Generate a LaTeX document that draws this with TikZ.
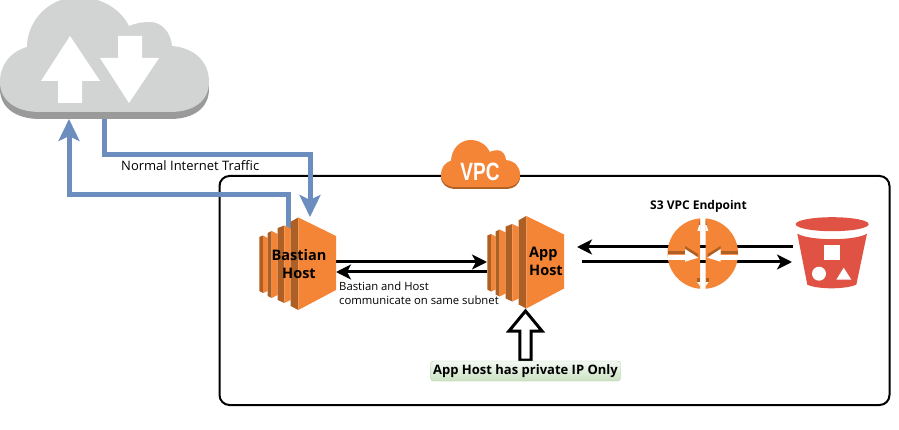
\documentclass[tikz,border=0pt]{standalone}
\usepackage{fontspec}
\setmainfont{Open Sans}
\newfontfamily\vpcfont{Liberation Sans}
\usetikzlibrary{arrows.meta}
\definecolor{awsorange}{HTML}{F58536}
\definecolor{awsdark}{HTML}{AD5F24}
\definecolor{cloudgray}{HTML}{D2D3D3}
\definecolor{cloudshade}{HTML}{9A9A9A}
\definecolor{flowblue}{HTML}{6C8EBF}
\definecolor{bucketred}{HTML}{E05243}
\definecolor{notetop}{HTML}{F4F9F2}
\definecolor{notebottom}{HTML}{CBE2C3}
\definecolor{noteedge}{HTML}{B4CFA8}
\newcommand{\cloudshape}{(0,82) .. controls (0,65) and (10,52) .. (27,47)
 .. controls (27,20) and (50,-3) .. (78,-3)
 .. controls (100,-3) and (120,8) .. (129,26)
 .. controls (136,23) and (143,22) .. (150,22)
 .. controls (162,22) and (171,33) .. (172,46)
 .. controls (195,48) and (209,62) .. (209,82)
 .. controls (209,100) and (195,112) .. (170,112)
 -- (40,112) .. controls (15,112) and (0,100) .. (0,82) -- cycle}
\tikzset{
 slot/.style={inner sep=0pt,outer sep=0pt,minimum width=#1},
 blueflow/.style={draw=flowblue,line width=5pt,-{Stealth[length=22pt,width=21pt,inset=5pt]}},
 blackflow/.style={draw=black,line width=3pt,-{Stealth[length=15pt,width=15pt,inset=4pt]}},
 caption/.style={inner sep=0pt,font=\fontsize{13}{14}\selectfont,text=black},
 hostlabel/.style={inner sep=0pt,font=\fontsize{14.5}{18}\selectfont\bfseries,text=black,align=center},
 ectwo/.pic={
  \fill[awsdark] (259.3,237)--(263,235.5)--(263,293)--(259.3,291)--cycle;
  \fill[awsorange] (263,235.5)--(267.7,238)--(267.7,291)--(263,293)--cycle;
  \fill[awsdark] (267.7,233)--(271.7,231)--(271.7,298)--(267.7,296)--cycle;
  \fill[awsorange] (271.7,231)--(277.7,234)--(277.7,295)--(271.7,298)--cycle;
  \fill[awsdark] (277.7,228)--(284.3,225.5)--(284.3,303)--(277.7,300)--cycle;
  \fill[awsorange] (284.3,225.5)--(290.7,228.5)--(290.7,300)--(284.3,303)--cycle;
  \fill[awsdark] (290.7,221.7)--(298.3,217.5)--(298.3,310)--(290.7,306)--cycle;
  \fill[awsorange] (298.3,217.5)--(336,236)--(336,290)--(298.3,310)--cycle;
 }
}
\begin{document}
\begin{tikzpicture}[x=1pt,y=-1pt]
\useasboundingbox (0,0) rectangle (899,430);
\fill[white] (0,0) rectangle (899,430);
% layout slots
\node[slot=209pt,minimum height=119pt] (cloud) at (104.5,59.5) {};
\node[slot=77pt,minimum height=93pt] (bastian) at (297.5,263.5) {};
\node[slot=77pt,minimum height=92pt] (app) at (525.5,262) {};
\node[slot=71pt,minimum height=69pt] (endpoint) at (702.8,253.6) {};
\node[slot=73pt,minimum height=71pt] (s3) at (832.5,252.5) {};
\coordinate (outbend) at (200,155);
\coordinate (inbend) at (150,195);
% VPC frame
\draw[line width=2pt,rounded corners=10pt] (219.5,176) rectangle (889.5,405);
\node[caption,anchor=west,font=\fontsize{13}{14}\selectfont] (trafficlabel) at (121,166) {Normal Internet Traffic};
% Internet cloud
\fill[cloudshade] [yshift=-7pt] \cloudshape;
\fill[cloudgray] \cloudshape;
\fill[white] (70,36)--(100,81)--(82,81)--(82,103)--(58,103)--(58,81)--(41,81)--cycle;
\fill[white] (118,36)--(142,36)--(142,58)--(159,58)--(129,103)--(100,58)--(118,58)--cycle;
% blue flows
\draw[blueflow] (cloud.south) |- (outbend) -| ([xshift=12.5pt]bastian.north);
\draw[blueflow] ([xshift=-9.5pt,yshift=-12pt]bastian.north) |- (inbend) -| ([xshift=-35.5pt]cloud.south);
% VPC cloud
\begin{scope}[shift={(441,141.2)},xscale=0.378,yscale=0.41]
 \fill[awsdark] [yshift=-4.5pt] \cloudshape;
 \fill[awsorange] \cloudshape;
\end{scope}
\node[inner sep=0pt,text=white,xscale=0.76,font=\fontsize{25}{25}\selectfont\vpcfont\bfseries] (vpclabel) at (480,172) {VPC};
% black flows
\draw[blackflow] ([yshift=1.5pt]bastian.east) -- ([yshift=0pt]app.west);
\draw[blackflow] ([yshift=-10pt]app.west) -- ([yshift=-8.5pt]bastian.east);
\draw[blackflow] ([xshift=-3pt,yshift=5.5pt]s3.west) -- ([xshift=13pt,yshift=15pt]app.east);
\draw[blackflow] ([xshift=18pt]app.east) -- ([xshift=-4pt,yshift=-9.5pt]s3.west);
% hosts
\pic at (0,0) {ectwo};
\pic at (228,-1.5) {ectwo};
\node[hostlabel] (bastianlabel) at (299,264) {Bastian\\Host};
\node[hostlabel,align=left,anchor=west] (applabel) at (529,261) {App\\Host};
\node[caption,anchor=north west,align=left,font=\fontsize{11.3}{14}\selectfont] (subnetlabel) at (339,282) {Bastian and Host\\communicate on same subnet};
% endpoint
\begin{scope}
 \clip (660,210) rectangle (700,295);
 \fill[awsorange] (702.8,253.6) circle (35.3);
\end{scope}
\begin{scope}
 \clip (705.7,210) rectangle (745,295);
 \fill[awsorange] (702.8,253.6) circle (35.3);
\end{scope}
\fill[awsdark] (667.7,250.7) rectangle (685,254.3);
\fill[awsdark] (685,246)--(698,254)--(698,257)--(685,249)--cycle;
\fill[white] (667.7,255)--(685,255)--(685,249)--(698.3,257.7)--(685,261.7)--(685,260)--(667.7,260)--cycle;
\fill[awsdark] (737.9,250.7) rectangle (720.6,254.3);
\fill[awsdark] (720.6,246)--(707.6,254)--(707.6,257)--(720.6,249)--cycle;
\fill[white] (737.9,255)--(720.6,255)--(720.6,249)--(707.3,257.7)--(720.6,261.7)--(720.6,260)--(737.9,260)--cycle;
\fill[white] (700.2,222)--(697.3,231)--(700.2,231)--cycle;
\fill[white] (705.5,222)--(708.4,231)--(705.5,231)--cycle;
\fill[awsdark] (700,219.5)--(698.8,225)--(700,225)--cycle;
\fill[awsdark] (705.7,219.5)--(706.9,225)--(705.7,225)--cycle;
\fill[awsdark] (696.7,278) rectangle (700,282);
\fill[awsdark] (705.7,278) rectangle (709,282);
\fill[white] (700,282)--(697,282)--(700,286)--cycle;
\fill[white] (705.7,282)--(708.6,282)--(705.7,286)--cycle;
\node[caption,font=\fontsize{12}{14}\selectfont\bfseries] (endpointlabel) at (698.5,206) {S3 VPC Endpoint};
% bucket
\fill[bucketred] (832.2,224.2) ellipse (36.5 and 7);
\fill[bucketred] (797.3,233.7) .. controls (810,241) and (855,241) .. (867,233.7)
 -- (856.3,284.7) .. controls (845,289.5) and (818,289.5) .. (807.3,284.7) -- cycle;
\fill[white] (824,245.3) rectangle (839.7,260.3);
\fill[white] (819,273.7) circle (7);
\fill[white] (843.7,267.7)--(851.3,279.7)--(836.3,279.7)--cycle;
% private IP note
\draw[black,line width=3pt,fill=white,miter limit=10] (525.5,311)--(542,331)--(531.2,331)--(531.2,360)--(519.8,360)--(519.8,331)--(509,331)--cycle;
\node[inner sep=0pt,outer sep=0pt,minimum width=190pt,minimum height=20pt,rounded corners=3pt,draw=noteedge,top color=notetop,bottom color=notebottom,font=\fontsize{13}{14}\selectfont\bfseries] (note) at (525.5,371) {App Host has private IP Only};
\end{tikzpicture}
\end{document}
